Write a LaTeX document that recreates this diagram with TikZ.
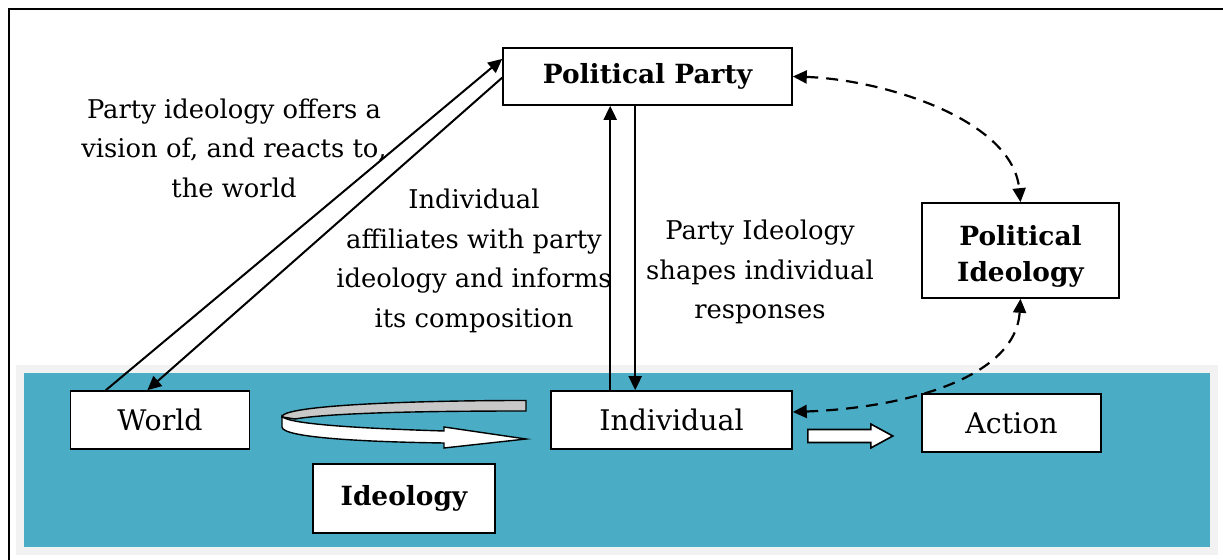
\documentclass[tikz,border=0pt]{standalone}
\usepackage{fontspec}
\setmainfont{DejaVu Serif}
\usetikzlibrary{arrows.meta,calc,positioning}
\definecolor{bandblue}{RGB}{75,172,198}
\definecolor{bandgray}{RGB}{242,242,242}
\definecolor{ribbongray}{RGB}{200,200,200}

\begin{document}
\begin{tikzpicture}[x=0.5pt,y=-0.5pt,
    box/.style={draw, fill=white, line width=0.8pt, inner sep=0pt, font=\fontsize{14.2}{17}\selectfont},
    boldbox/.style={box, align=center, font=\fontsize{13.2}{18}\selectfont\bfseries},
    note/.style={align=center, font=\fontsize{12.9}{19.8}\selectfont},
    link/.style={line width=1pt, -{Triangle[length=7pt,width=6.5pt]}},
    twoway/.style={line width=1.1pt, dash pattern=on 6pt off 4pt,
        {Triangle[length=7pt,width=6.5pt]}-{Triangle[length=7pt,width=6.5pt]}}]

    \useasboundingbox (0,0) rectangle (1223,560);

    % Frame and background band
    \draw[line width=1.3pt] (9,560) -- (9,9) -- (1223,9);
    \fill[bandgray] (16,365) rectangle (1218,555);
    \fill[bandblue] (24,373) rectangle (1210,547);

    % Boxes
    \node[boldbox, minimum width=144.5pt, minimum height=28.5pt] (party) at (647.5,76.5) {Political Party};
    \node[boldbox, minimum width=98.5pt, minimum height=47.5pt, text height=34pt] (polideo) at (1020.5,250.5) {Political\\Ideology};
    \node[box, minimum width=89.5pt, minimum height=29pt] (world) at (160,420) {World};
    \node[box, minimum width=120.5pt, minimum height=29pt] (individual) at (671.5,420) {Individual};
    \node[box, minimum width=89.5pt, minimum height=29pt] (action) at (1011.5,423) {Action};
    \node[boldbox, minimum width=91pt, minimum height=34.5pt] (ideology) at (404,498.5) {Ideology};

    % Notes
    \node[note] (vision) at (234,148) {Party ideology offers a\\vision of, and reacts to,\\the world};
    \node[note] (affiliates) at (474,261) {Individual\\affiliates with party\\ideology and informs\\its composition};
    \node[note] (shapes) at (760,272) {Party Ideology\\shapes individual\\responses};

    % Party and world
    \draw[link] ($(world.north west)!0.2!(world.north east)$) -- ($(party.north west)!0.2!(party.south west)$);
    \draw[link] ($(party.north west)!0.52!(party.south west)$) -- ($(world.north west)!0.43!(world.north east)$);

    % Party and individual
    \coordinate (up) at ($(individual.north west)+(60,0)$);
    \coordinate (down) at ($(individual.north west)+(85,0)$);
    \draw[link] (up) -- (up |- party.south);
    \draw[link] (down |- party.south) -- (down);

    % Political ideology, both ways
    \draw[twoway] (party.east) .. controls +(90,3) and +(-8,-83) .. (polideo.north);
    \draw[twoway] ($(individual.east)+(0,-8)$) .. controls +(110,-4) and +(-5,80) .. (polideo.south);

    % Block arrow to action
    \coordinate (acts) at ($(individual.east)+(15,16)$);
    \draw[fill=white, line width=0.8pt] (acts) ++(0,-6.5) -- ++(63,0) -- ++(0,-5.5) -- ++(22,12)
        -- ++(-22,12) -- ++(0,-5.5) -- ++(-63,0) -- cycle;

    % Ideology loop between world and individual
    \filldraw[fill=ribbongray, line width=0.7pt] (526,400.5) -- (526,411)
        .. controls (420,411) and (330,413) .. (295,419)
        -- (282,417)
        .. controls (281,406) and (400,400.5) .. (526,400.5) -- cycle;
    \filldraw[fill=white, line width=0.7pt] (282,416) .. controls (285,425) and (380,429) .. (444,431)
        -- (444,427) -- (526,439) -- (444,448) -- (444,443)
        .. controls (370,442) and (282,438) .. (282,427) -- cycle;

\end{tikzpicture}
\end{document}
